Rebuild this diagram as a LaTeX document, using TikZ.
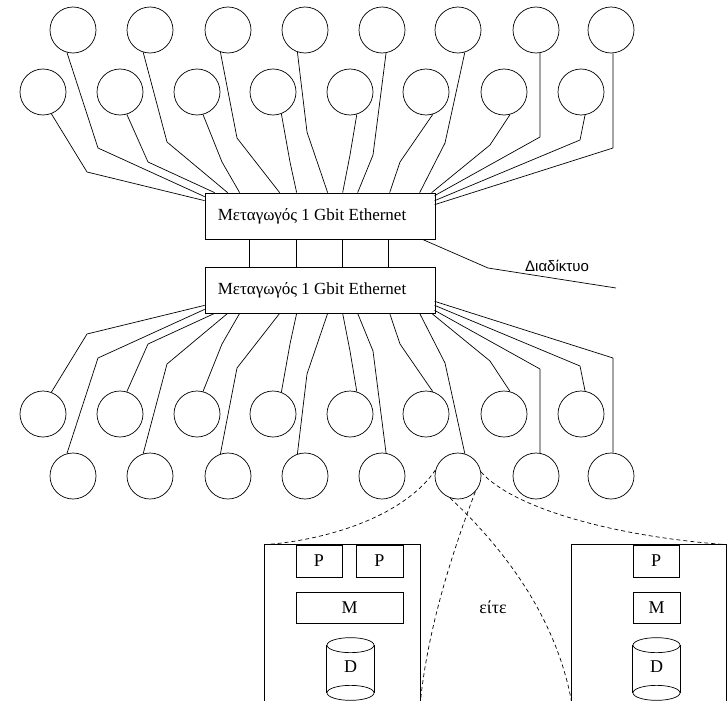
\documentclass[tikz,border=0pt]{standalone}
\usepackage{fontspec}
\setmainfont{Liberation Serif}
\newfontfamily\netfont{Liberation Sans}
\usetikzlibrary{calc}
\begin{document}
\begin{tikzpicture}[x=1pt,y=-1pt,line width=0.7pt,
  circ/.style={circle,draw,minimum size=46pt,inner sep=0pt},
  switchbox/.style={draw,minimum width=230pt,minimum height=46pt,inner sep=0pt,font=\fontsize{17}{19}\selectfont},
  part/.style={draw,inner sep=0pt,font=\fontsize{18}{20}\selectfont},
  server/.style={inner sep=0pt},
  link/.style={line join=round},
  dlink/.style={dash pattern=on 4pt off 3pt}]
\useasboundingbox (0,0) rectangle (728,701);

% circles
\foreach \i/\x in {1/73,2/150,3/228,4/305,5/382,6/458,7/536,8/611}{
  \node[circ] (t\i) at (\x,30) {};
  \node[circ] (w\i) at (\x,476) {};
}
\foreach \i/\x in {1/43,2/120,3/197,4/273,5/350,6/426,7/504,8/581}{
  \node[circ] (u\i) at (\x,92) {};
  \node[circ] (v\i) at (\x,414) {};
}

% switches
\node[switchbox] (s1) at (320,216) {\hspace{-16pt}Μεταγωγός 1 Gbit Ethernet};
\node[switchbox] (s2) at (320,290) {\hspace{-16pt}Μεταγωγός 1 Gbit Ethernet};
\foreach \d in {45,92,138,184}
  \draw ([xshift=\d pt]s1.south west) -- ([xshift=\d pt]s2.north west);

% internet
\node[font=\netfont\fontsize{15}{17}\selectfont] (net) at (557,266) {Διαδίκτυο};
\coordinate (netend) at (616,288);
\draw[link] ([xshift=-13pt]s1.south east) -- (488,268) -- (netend);

% connectors
\foreach \ta/\tb/\a/\bx/\by/\dx/\dy in {
  t1/w1/-105/98/148/0/4,
  u1/v1/-69/87/172/0/8,
  u2/v2/-73/148/162/10/0,
  t2/w2/-107/167/142/23/0,
  u3/v3/-75/222/162/35/0,
  t3/w3/-109/237/138/75/0,
  u4/v4/-69/290/162/92/0,
  t4/w4/-109/307/132/123/0,
  u5/v5/-73/350/155/138/0,
  t5/w5/-80/373/155/153/0,
  u6/v6/-73/400/162/185/0,
  t6/w6/-73/445/143/215/0,
  u7/v7/-75/490/145/227/0,
  t7/w7/-80/540/137/230/3,
  u8/v8/-80/580/140/230/8,
  t8/w8/-85/613/148/230/12}{
  \draw[link] (\ta.\a) -- (\bx,\by) -- ([shift={(\dx,\dy)}]s1.north west);
  \pgfmathtruncatemacro\ma{-\a}
  \pgfmathsetmacro\mby{506-\by}
  \draw[link] (\tb.\ma) -- (\bx,\mby) -- ([shift={(\dx,-\dy)}]s2.south west);
}

% servers
\node[server,minimum width=155pt,minimum height=157pt] (srvL) at (342.5,623.5) {};
\node[server,minimum width=154pt,minimum height=157pt] (srvR) at (649,623.5) {};
\draw (srvL.south west) -- (srvL.north west) -- (srvL.north east) -- (srvL.south east);
\draw (srvR.south west) -- (srvR.north west) -- (srvR.north east) -- (srvR.south east);

\node[part,minimum width=46pt,minimum height=32pt] (p1) at (319,561) {P};
\node[part,minimum width=47pt,minimum height=32pt] (p2) at (379.5,561) {P};
\node[part,minimum width=107pt,minimum height=31pt] (m1) at (349.5,607.5) {M};
\node[part,minimum width=46pt,minimum height=32pt] (p3) at (656,561) {P};
\node[part,minimum width=47pt,minimum height=31pt] (m2) at (656.5,607.5) {M};

\foreach \n/\x in {disk1/350.5,disk2/656.5}{
  \node[inner sep=0pt,minimum width=47pt,minimum height=47pt,font=\fontsize{18}{20}\selectfont] (\n) at (\x,669) {\raisebox{5pt}{D}};
  \draw (\n.north west) -- (\n.south west);
  \draw (\n.north east) -- (\n.south east);
  \draw (\n.north) ellipse (23.5pt and 7.5pt);
  \draw (\n.south) ellipse (23.5pt and 7.5pt);
}

\node[font=\fontsize{18}{20}\selectfont] (eite) at (493,607) {είτε};

% dashed zoom lines
\draw[dlink] (w6.165) .. controls (405,515) and (330,540) .. (srvL.north west);
\draw[dlink] (w6.10) .. controls (515,510) and (620,537) .. (srvR.north east);
\draw[dlink] (w6.-42) .. controls (455,545) and (428,625) .. (srvL.south east);
\draw[dlink] (w6.-110) .. controls (495,540) and (555,610) .. (srvR.south west);
\end{tikzpicture}
\end{document}
